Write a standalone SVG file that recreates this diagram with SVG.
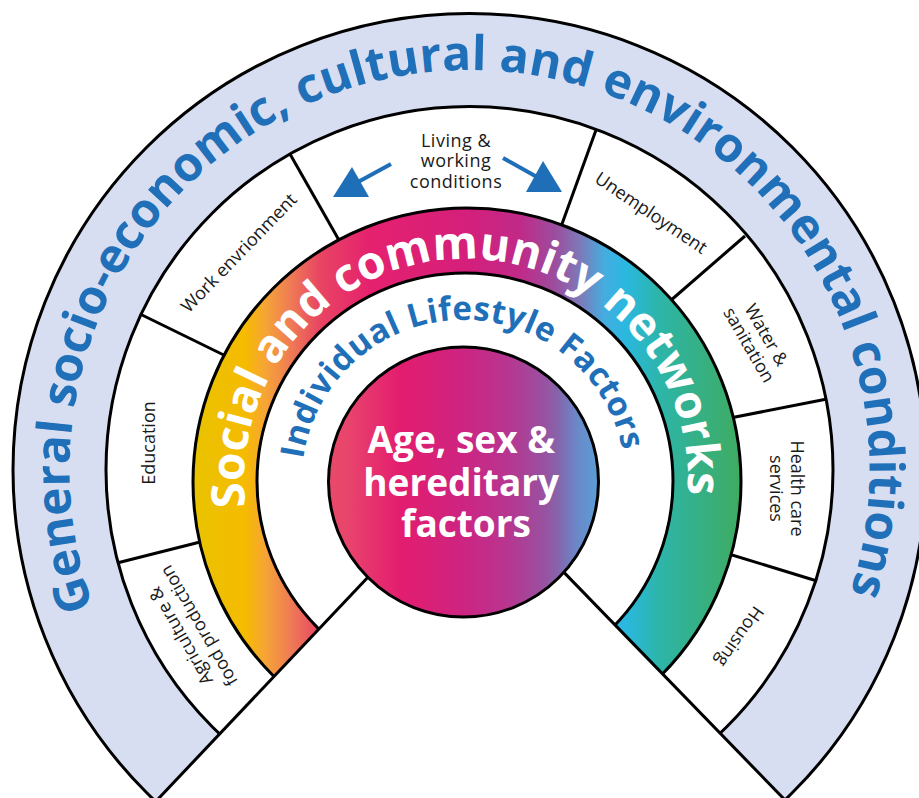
<svg xmlns="http://www.w3.org/2000/svg" width="919" height="798" viewBox="0 0 919 798">
<defs>
<linearGradient id="ringGrad" gradientUnits="userSpaceOnUse" x1="193" y1="0" x2="742" y2="0">
<stop offset="0" stop-color="#e8c300"/>
<stop offset="0.095" stop-color="#f6bb00"/>
<stop offset="0.131" stop-color="#f6a535"/>
<stop offset="0.177" stop-color="#ef7c55"/>
<stop offset="0.231" stop-color="#e84563"/>
<stop offset="0.322" stop-color="#e5216e"/>
<stop offset="0.505" stop-color="#d41f7c"/>
<stop offset="0.596" stop-color="#c02a88"/>
<stop offset="0.659" stop-color="#9c4d9e"/>
<stop offset="0.705" stop-color="#7d7ab9"/>
<stop offset="0.750" stop-color="#44ade0"/>
<stop offset="0.787" stop-color="#2ab8e0"/>
<stop offset="0.851" stop-color="#2db5a8"/>
<stop offset="1" stop-color="#3fab5f"/>
</linearGradient>
<linearGradient id="coreGrad" gradientUnits="userSpaceOnUse" x1="328" y1="0" x2="599" y2="0">
<stop offset="0" stop-color="#e84a68"/>
<stop offset="0.07" stop-color="#e8456c"/>
<stop offset="0.266" stop-color="#e31d6f"/>
<stop offset="0.498" stop-color="#cd2481"/>
<stop offset="0.66" stop-color="#b8358f"/>
<stop offset="0.793" stop-color="#9a50a0"/>
<stop offset="0.838" stop-color="#8a60a8"/>
<stop offset="0.919" stop-color="#6a88c8"/>
<stop offset="1" stop-color="#5a9fd8"/>
</linearGradient>
<clipPath id="cut"><polygon points="467,472.5 -500,1494.6 -500,-100 1400,-100 1400,1433.5"/></clipPath>
<path id="arcOuter" d="M93.6,606.8 A400,400 0 1 1 851,590.3"/>
<path id="arcSocial" d="M245.5,506.9 A222,222 0 1 1 687.7,491.8"/>
<path id="arcLife" d="M303.1,459.2 A162,162 0 0 1 622,448.3"/>
</defs>
<style>
.ol{stroke:#000;stroke-width:3;}
.div{stroke:#000;stroke-width:3;fill:none;}
.lbl{font-family:'Open Sans','Liberation Sans',sans-serif;font-size:18px;fill:#1a1a1a;text-anchor:middle;}
.bigblue{font-family:'Open Sans','Liberation Sans',sans-serif;font-weight:700;fill:#1f70b8;}
.bigwhite{font-family:'Open Sans','Liberation Sans',sans-serif;font-weight:700;fill:#ffffff;}
.arrow{stroke:#1e6fb7;stroke-width:4;fill:none;}
.head{fill:#1e6fb7;}
</style>

<g clip-path="url(#cut)">
<g id="band">
<circle cx="469.5" cy="470" r="456.5" fill="#d8def2" class="ol"/>
</g>
<g id="ring-segments">
<circle cx="469.5" cy="470" r="363.5" fill="#ffffff" class="ol"/>
<line class="div" x1="117" y1="563" x2="212" y2="539"/>
<line class="div" x1="140" y1="314" x2="236" y2="361"/>
<line class="div" x1="290" y1="154" x2="344" y2="249"/>
<line class="div" x1="596" y1="130" x2="558" y2="235"/>
<line class="div" x1="745" y1="236" x2="662" y2="308"/>
<line class="div" x1="827" y1="399" x2="720" y2="420"/>
<line class="div" x1="817" y1="581" x2="719" y2="551"/>
</g>
<g id="social-ring">
<circle cx="467" cy="482" r="274" fill="url(#ringGrad)" class="ol"/>
</g>
<g id="lifestyle-ring">
<circle cx="465" cy="481" r="208" fill="#ffffff" class="ol"/>
</g>
</g>

<g id="cut-lines">
<line class="div" x1="467" y1="472.5" x2="147.7" y2="810"/>
<line class="div" x1="467" y1="472.5" x2="794.7" y2="810"/>
</g>

<g id="core">
<circle cx="463.5" cy="482" r="135" fill="url(#coreGrad)" class="ol"/>
<text class="bigwhite" font-size="37" text-anchor="middle">
<tspan x="466" y="453">Age, sex &amp;</tspan>
<tspan x="466" y="496">hereditary</tspan>
<tspan x="466" y="537">factors</tspan>
</text>
</g>

<g id="title-outer">
<text class="bigblue" font-size="48"><textPath href="#arcOuter">General socio-economic, cultural and environmental conditions</textPath></text>
</g>
<g id="title-social">
<text class="bigwhite" font-size="46"><textPath href="#arcSocial">Social and community networks</textPath></text>
</g>
<g id="title-lifestyle">
<text class="bigblue" font-size="33" letter-spacing="0.4"><textPath href="#arcLife">Individual Lifestyle Factors</textPath></text>
</g>

<g id="seg-agriculture">
<text class="lbl" transform="translate(189.5,631) rotate(-120)"><tspan x="0" y="-4">Agriculture &amp;</tspan><tspan x="0" y="17">food production</tspan></text>
</g>
<g id="seg-education">
<text class="lbl" transform="translate(149,443) rotate(-90)"><tspan x="0" y="6">Education</tspan></text>
</g>
<g id="seg-work">
<text class="lbl" transform="translate(239,253) rotate(-46)"><tspan x="0" y="6">Work envrionment</tspan></text>
</g>
<g id="seg-living">
<text class="lbl" font-size="17" letter-spacing="0.5"><tspan x="456" y="146.5">Living &amp;</tspan><tspan x="456" y="167">working</tspan><tspan x="456" y="187.5">conditions</tspan></text>
</g>
<g id="seg-unemployment">
<text class="lbl" transform="translate(651,213) rotate(34)"><tspan x="0" y="6">Unemployment</tspan></text>
</g>
<g id="seg-water">
<text class="lbl" transform="translate(757.5,340) rotate(60)"><tspan x="0" y="-4">Water &amp;</tspan><tspan x="0" y="16">sanitation</tspan></text>
</g>
<g id="seg-health">
<text class="lbl" transform="translate(786.5,488.5) rotate(90)"><tspan x="0" y="-4">Health care</tspan><tspan x="0" y="17">services</tspan></text>
</g>
<g id="seg-housing">
<text class="lbl" transform="translate(739.5,636.5) rotate(125)"><tspan x="0" y="6">Housing</tspan></text>
</g>

<g id="connectors">
<line class="arrow" x1="391" y1="164" x2="358" y2="182"/>
<polygon class="head" points="333,197 369,197 352,167"/>
<line class="arrow" x1="503" y1="158" x2="537" y2="177"/>
<polygon class="head" points="526,192 562,192 543,161"/>
</g>
</svg>
